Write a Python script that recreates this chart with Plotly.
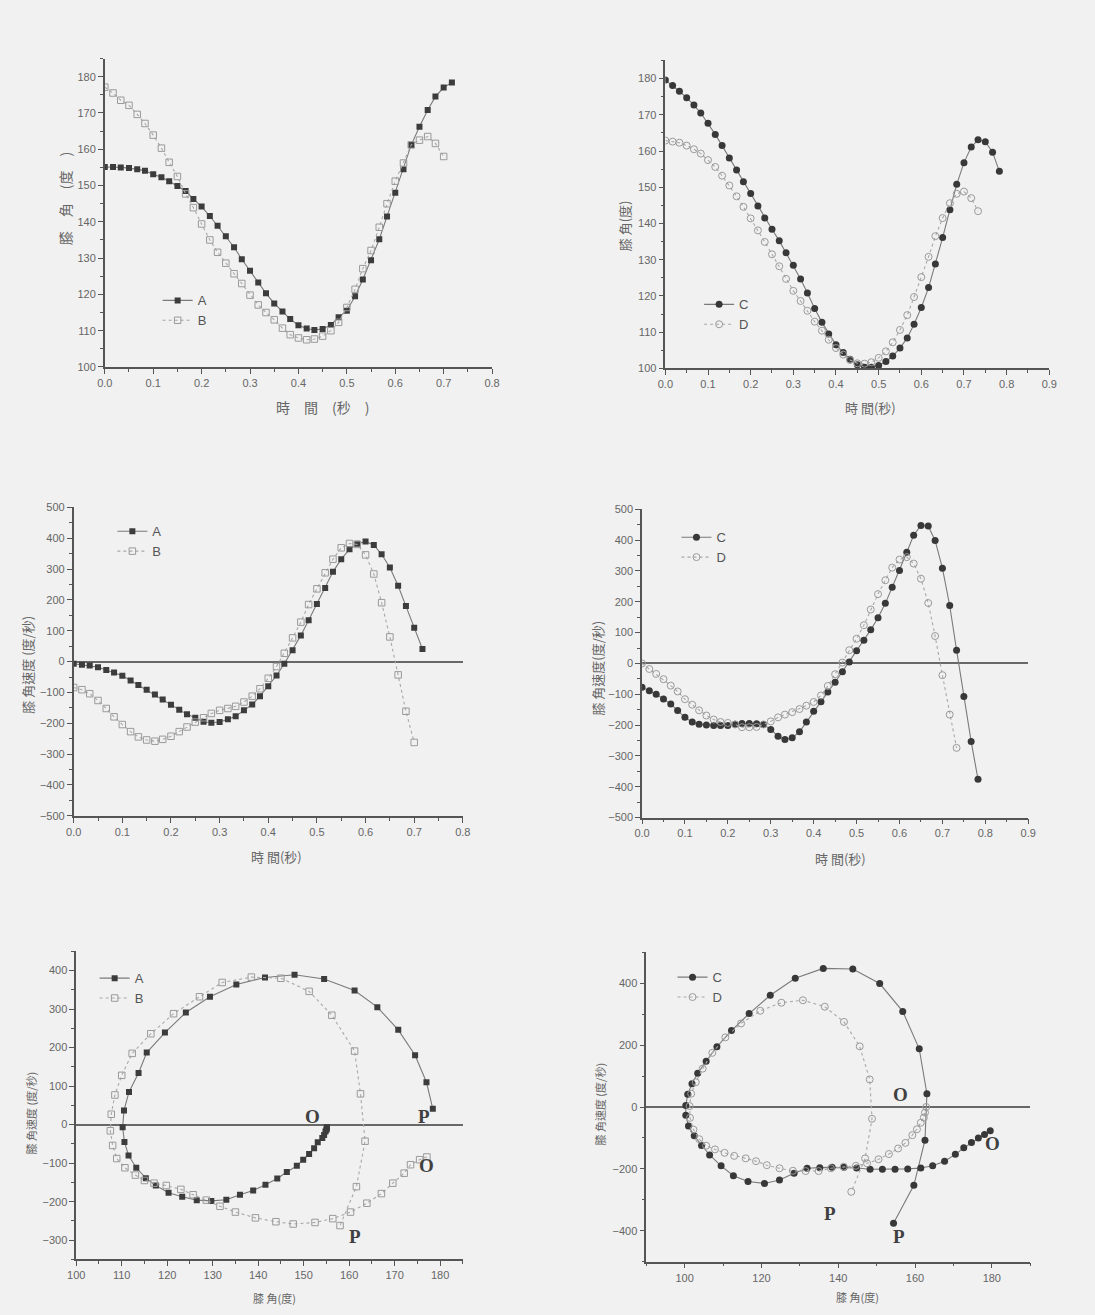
import plotly.graph_objects as go

# ---------------- data ----------------
T = [0.000, 0.017, 0.033, 0.050, 0.067, 0.083, 0.100, 0.117, 0.133, 0.150,
     0.167, 0.183, 0.200, 0.217, 0.233, 0.250, 0.267, 0.283, 0.300, 0.317,
     0.333, 0.350, 0.367, 0.383, 0.400, 0.417, 0.433, 0.450, 0.467, 0.483,
     0.500, 0.517, 0.533, 0.550, 0.567, 0.583, 0.600, 0.617, 0.633, 0.650,
     0.667, 0.683, 0.700, 0.717, 0.733, 0.750, 0.767, 0.783]

angle_A = [155.1, 155.1, 155.0, 154.8, 154.5, 154.1, 153.1, 152.3, 151.2, 149.9,
           148.5, 146.3, 144.2, 141.6, 138.9, 136.0, 133.0, 129.7, 126.5, 123.3,
           120.3, 117.5, 115.3, 113.2, 111.5, 110.6, 110.2, 110.5, 111.6, 113.7,
           115.5, 119.5, 124.1, 129.4, 135.2, 141.5, 148.0, 154.5, 161.2, 166.2,
           170.8, 174.5, 177.0, 178.4]
angle_B = [177.1, 175.5, 173.5, 172.1, 169.6, 167.1, 163.9, 160.3, 156.4, 152.5,
           147.7, 143.9, 139.4, 135.0, 131.6, 128.6, 125.7, 123.0, 119.8, 117.1,
           115.0, 113.0, 110.7, 108.9, 108.0, 107.5, 107.7, 108.5, 110.0, 112.3,
           116.4, 121.4, 127.1, 132.1, 138.5, 145.0, 151.2, 156.2, 161.2, 162.5,
           163.5, 161.6, 158.0]
angle_C = [179.6, 178.1, 176.5, 174.7, 172.7, 170.5, 167.7, 164.6, 161.5, 158.1,
           154.8, 151.5, 148.3, 144.8, 141.5, 138.4, 135.2, 131.9, 128.5, 124.7,
           120.8, 116.5, 112.7, 109.5, 106.5, 104.4, 102.5, 101.0, 100.3, 100.3,
           100.8, 101.9, 103.4, 105.6, 108.4, 112.2, 116.8, 122.3, 128.8, 136.1,
           143.8, 150.8, 156.8, 161.1, 163.1, 162.6, 159.7, 154.4]
angle_D = [162.9, 162.6, 162.3, 161.5, 160.5, 159.3, 157.5, 155.6, 153.2, 150.5,
           147.5, 144.6, 141.4, 138.1, 134.9, 131.5, 128.2, 124.7, 121.4, 118.6,
           115.9, 112.9, 110.4, 107.9, 105.6, 103.8, 102.3, 101.4, 101.3, 101.7,
           102.9, 104.7, 107.2, 110.6, 114.7, 119.7, 125.2, 130.8, 136.5, 141.5,
           145.6, 148.2, 148.8, 147.0, 143.4]

vel_A = [-7, -10, -13, -18, -27, -35, -46, -61, -76, -91,
         -107, -123, -140, -156, -171, -182, -195, -198, -196, -187,
         -177, -158, -139, -112, -80, -45, -7, 37, 85, 134,
         187, 239, 291, 332, 364, 382, 389, 378, 348, 305,
         246, 180, 110, 41]
vel_B = [-84, -91, -104, -126, -152, -179, -204, -227, -244, -254,
         -258, -252, -242, -227, -212, -196, -182, -168, -158, -152,
         -145, -131, -112, -88, -54, -16, 27, 77, 128, 185,
         236, 288, 332, 369, 383, 380, 346, 284, 191, 80,
         -43, -161, -262]
vel_C = [-77, -89, -100, -115, -132, -153, -175, -190, -197, -200,
         -201, -201, -201, -197, -195, -195, -196, -198, -214, -236,
         -247, -241, -222, -190, -155, -124, -93, -61, -27, 5,
         41, 75, 109, 148, 195, 247, 302, 361, 416, 448,
         446, 399, 309, 188, 43, -107, -253, -376]
vel_D = [0, -18, -34, -51, -72, -91, -116, -134, -152, -169,
         -182, -190, -193, -198, -207, -207, -206, -198, -188, -175,
         -166, -158, -148, -137, -125, -104, -73, -35, 3, 43,
         80, 124, 175, 225, 270, 311, 337, 345, 324, 275,
         196, 89, -38, -166, -274]

t_A = T[:len(angle_A)]
t_B = T[:len(angle_B)]
t_C = T[:len(angle_C)]
t_D = T[:len(angle_D)]

# ---------------- styling ----------------
W, H = 1095, 1315
BG = "#f1f1f1"
AX = "#555555"
TXT = "#666666"
CJK = "Noto Sans CJK TC"
LAT = "Liberation Sans"

dark_line = dict(color="#7a7a7a", width=1.1)
light_line = dict(color="#a8a8a8", width=1.1, dash="dot")
sq_fill = dict(symbol="square", size=6, color="#3c3c3c", line=dict(width=0))
sq_open = dict(symbol="square-open", size=6.5, color="#9a9a9a", line=dict(width=1))
ci_fill = dict(symbol="circle", size=7, color="#383838", line=dict(width=0))
ci_open = dict(symbol="circle-open", size=7, color="#9a9a9a", line=dict(width=1))

fig = go.Figure()

def add(x, y, name, mk, ln, n, legend):
    xa = "x" if n == 1 else f"x{n}"
    ya = "y" if n == 1 else f"y{n}"
    fig.add_trace(go.Scatter(x=x, y=y, name=name, mode="lines+markers",
                             marker=mk, line=ln, xaxis=xa, yaxis=ya,
                             legend=legend, showlegend=True))

# panel 1: angle vs time A/B
add(t_A, angle_A, "A", sq_fill, dark_line, 1, "legend")
add(t_B, angle_B, "B", sq_open, light_line, 1, "legend")
# panel 2: angle vs time C/D
add(t_C, angle_C, "C", ci_fill, dark_line, 2, "legend2")
add(t_D, angle_D, "D", ci_open, light_line, 2, "legend2")
# panel 3: velocity vs time A/B
add(t_A, vel_A, "A", sq_fill, dark_line, 3, "legend3")
add(t_B, vel_B, "B", sq_open, light_line, 3, "legend3")
# panel 4: velocity vs time C/D
add(t_C, vel_C, "C", ci_fill, dark_line, 4, "legend4")
add(t_D, vel_D, "D", ci_open, light_line, 4, "legend4")
# panel 5: phase A/B
add(angle_A, vel_A, "A", sq_fill, dark_line, 5, "legend5")
add(angle_B, vel_B, "B", sq_open, light_line, 5, "legend5")
# panel 6: phase C/D
add(angle_C, vel_C, "C", ci_fill, dark_line, 6, "legend6")
add(angle_D, vel_D, "D", ci_open, light_line, 6, "legend6")


def px_x(p):
    return p / W


def px_y(p):
    return 1 - p / H


def axis(dom, rng, dtick, mdtick, tick0, fmt, anchor, zero=False):
    return dict(domain=dom, range=rng, dtick=dtick, tick0=tick0, tickformat=fmt,
                showline=True, linecolor=AX, linewidth=1.5, mirror=False,
                ticks="outside", ticklen=5, tickwidth=1.2, tickcolor=AX,
                minor=dict(dtick=mdtick, tick0=tick0, ticks="outside", ticklen=3,
                           tickwidth=1, tickcolor=AX),
                showgrid=False, zeroline=zero, zerolinecolor="#686868",
                zerolinewidth=1.6, anchor=anchor,
                tickfont=dict(family=LAT, size=11, color=TXT))

layout = dict(
    width=W, height=H, margin=dict(l=0, r=0, t=0, b=0),
    paper_bgcolor=BG, plot_bgcolor=BG, showlegend=True,
    xaxis=axis([px_x(97.3), px_x(490.7)], [0, 0.8], 0.1, 0.05, 0, ".1f", "y"),
    yaxis=axis([px_y(364.3), px_y(53)], [100, 185], 10, 5, 100, "d", "x"),
    xaxis2=axis([px_x(666.7), px_x(1056.7)], [0, 0.9], 0.1, 0.05, 0, ".1f", "y2"),
    yaxis2=axis([px_y(365.7), px_y(55)], [100, 185], 10, 5, 100, "d", "x2"),
    xaxis3=axis([px_x(65.7), px_x(461)], [0, 0.8], 0.1, 0.05, 0, ".1f", "y3"),
    yaxis3=axis([px_y(817.3), px_y(506)], [-500, 500], 100, 50, 0, "d", "x3", True),
    xaxis4=axis([px_x(643), px_x(1035.3)], [0, 0.9], 0.1, 0.05, 0, ".1f", "y4"),
    yaxis4=axis([px_y(819), px_y(508)], [-500, 500], 100, 50, 0, "d", "x4", True),
    xaxis5=axis([px_x(68.3), px_x(461)], [100, 185], 10, 5, 100, "d", "y5"),
    yaxis5=axis([px_y(1265), px_y(954)], [-350, 450], 100, 50, 0, "d", "x5", True),
    xaxis6=axis([px_x(647.3), px_x(1037.3)], [90, 190], 20, 10, 100, "d", "y6"),
    yaxis6=axis([px_y(1267.3), px_y(955)], [-500, 500], 200, 100, 0, "d", "x6", True),
)

leg_pos = {"legend": (151, 282), "legend2": (701, 286), "legend3": (105, 515),
           "legend4": (678, 521), "legend5": (87, 966), "legend6": (674, 965)}
for k, (lx, ly) in leg_pos.items():
    layout[k] = dict(x=px_x(lx), y=px_y(ly), xanchor="left", yanchor="top",
                     bgcolor="rgba(0,0,0,0)", borderwidth=0, tracegroupgap=0,
                     font=dict(family=LAT, size=13, color="#555555"))

fig.update_layout(**layout)

# axis titles
def title(text, x, y, angle=0, size=13):
    fig.add_annotation(text=text, x=px_x(x), y=px_y(y), xref="paper", yref="paper",
                       showarrow=False, textangle=angle, xanchor="center",
                       yanchor="middle",
                       font=dict(family=CJK, size=size, color=TXT))

title("時　間　(秒　)", 318, 405, size=14)
title("膝　角　(度　)", 57, 195, -90, 14)
title("時 間(秒)", 875, 405, size=13)
title("膝 角(度)", 626, 222, -90, 13)
title("時 間(秒)", 272, 858, size=13)
title("膝 角速度 (度/秒)", 19, 665, -90, 13)
title("時 間(秒)", 845, 860, size=13)
title("膝 角速度(度/秒)", 598, 668, -90, 13)
title("膝 角(度)", 270, 1304, size=11)
title("膝 角速度 (度/秒)", 22, 1117, -90, 11)
title("膝 角(度)", 862, 1303, size=11)
title("膝 角速度 (度/秒)", 600, 1108, -90, 11)

# O / P labels on the phase plots
def mark(text, x, y, n):
    fig.add_annotation(text=text, x=x, y=y, xref=f"x{n}", yref=f"y{n}",
                       showarrow=False,
                       font=dict(family="Liberation Serif", size=19, color="#404040"))

mark("<b>O</b>", 152.0, 20, 5)
mark("<b>P</b>", 176.5, 20, 5)
mark("<b>O</b>", 177.0, -105, 5)
mark("<b>P</b>", 161.4, -290, 5)
mark("<b>O</b>", 156.3, 42, 6)
mark("<b>O</b>", 180.3, -117, 6)
mark("<b>P</b>", 137.9, -345, 6)
mark("<b>P</b>", 155.8, -420, 6)

fig.write_html("out.html")
